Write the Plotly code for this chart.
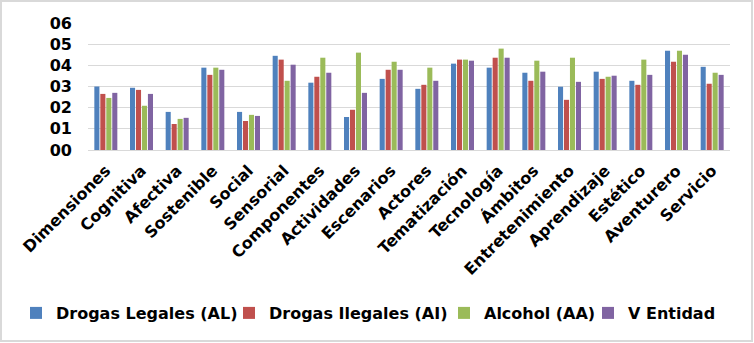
import plotly.graph_objects as go

categories = ["Dimensiones", "Cognitiva", "Afectiva", "Sostenible", "Social", "Sensorial",
              "Componentes", "Actividades", "Escenarios", "Actores", "Tematización",
              "Tecnología", "Ámbitos", "Entretenimiento", "Aprendizaje", "Estético",
              "Aventurero", "Servicio"]

drogas_legales = [3.0, 2.94, 1.8, 3.89, 1.8, 4.45, 3.18, 1.56, 3.36, 2.89, 4.08, 3.89, 3.65, 2.99, 3.7, 3.27, 4.69, 3.93]
drogas_ilegales = [2.65, 2.84, 1.23, 3.55, 1.37, 4.27, 3.46, 1.9, 3.79, 3.08, 4.27, 4.36, 3.27, 2.37, 3.36, 3.08, 4.17, 3.13]
alcohol = [2.46, 2.09, 1.47, 3.89, 1.66, 3.27, 4.36, 4.6, 4.17, 3.89, 4.27, 4.79, 4.22, 4.36, 3.46, 4.27, 4.69, 3.65]
v_entidad = [2.7, 2.65, 1.52, 3.79, 1.61, 4.03, 3.65, 2.7, 3.79, 3.27, 4.22, 4.36, 3.7, 3.22, 3.51, 3.55, 4.5, 3.55]

series_names = ["Drogas Legales (AL)", "Drogas Ilegales (AI)", "Alcohol (AA)", "V Entidad"]
series_values = [drogas_legales, drogas_ilegales, alcohol, v_entidad]
series_colors = ["#4F81BD", "#C0504D", "#9BBB59", "#8064A2"]

W, H = 754, 343
ml, mr, mt, mb = 88, 24, 23, 193
pw, ph = W - ml - mr, H - mt - mb

def px_x(p):
    return (p - ml) / pw

def px_y(p):
    return (H - mb - p) / ph

# legend text start positions (container px)
legend_text_x = [58, 271, 486, 630]
legend_ids = ["legend", "legend2", "legend3", "legend4"]

fig = go.Figure()
for i, (name, vals, color) in enumerate(zip(series_names, series_values, series_colors)):
    fig.add_trace(go.Bar(x=categories, y=vals, name=name, marker_color=color,
                         marker_line_width=0, legend=legend_ids[i]))

legend_font = dict(size=16, family="DejaVu Sans", weight="bold", color="black")
legend_layout = {}
for i, lid in enumerate(legend_ids):
    legend_layout[lid] = dict(
        orientation="h", xref="container", yref="container",
        x=(legend_text_x[i] - 42) / W, xanchor="left",
        y=(H - 313) / H, yanchor="middle",
        font=legend_font, itemwidth=30, bgcolor="rgba(0,0,0,0)", borderwidth=0)

fig.update_layout(
    width=W, height=H,
    margin=dict(l=ml, r=mr, t=mt, b=mb, pad=0, autoexpand=False),
    paper_bgcolor="white", plot_bgcolor="white",
    barmode="group", bargap=0.33, bargroupgap=0.15,
    font=dict(family="DejaVu Sans", color="black"),
    showlegend=True,
    xaxis=dict(tickangle=-45, tickfont=dict(size=16, family="DejaVu Sans", weight="bold"),
               showline=True, linecolor="#D9D9D9", linewidth=1, ticks="",
               showgrid=False, automargin=False, ticklabelstandoff=4),
    yaxis=dict(range=[0, 6], dtick=1, tickformat="02d",
               tickfont=dict(size=16, family="DejaVu Sans", weight="bold"),
               showgrid=True, gridcolor="#D9D9D9", gridwidth=1, zeroline=False,
               showline=False, ticks="", ticklabelstandoff=15, automargin=False),
    shapes=[dict(type="rect", xref="paper", yref="paper",
                 x0=px_x(1), x1=px_x(752), y0=px_y(341), y1=px_y(1),
                 line=dict(color="#D9D9D9", width=2), fillcolor="rgba(0,0,0,0)", layer="below")],
    **legend_layout,
)

fig.write_html("out.html", config={"displayModeBar": False},
               post_script="document.body.style.margin='0';document.body.style.overflow='hidden';")
